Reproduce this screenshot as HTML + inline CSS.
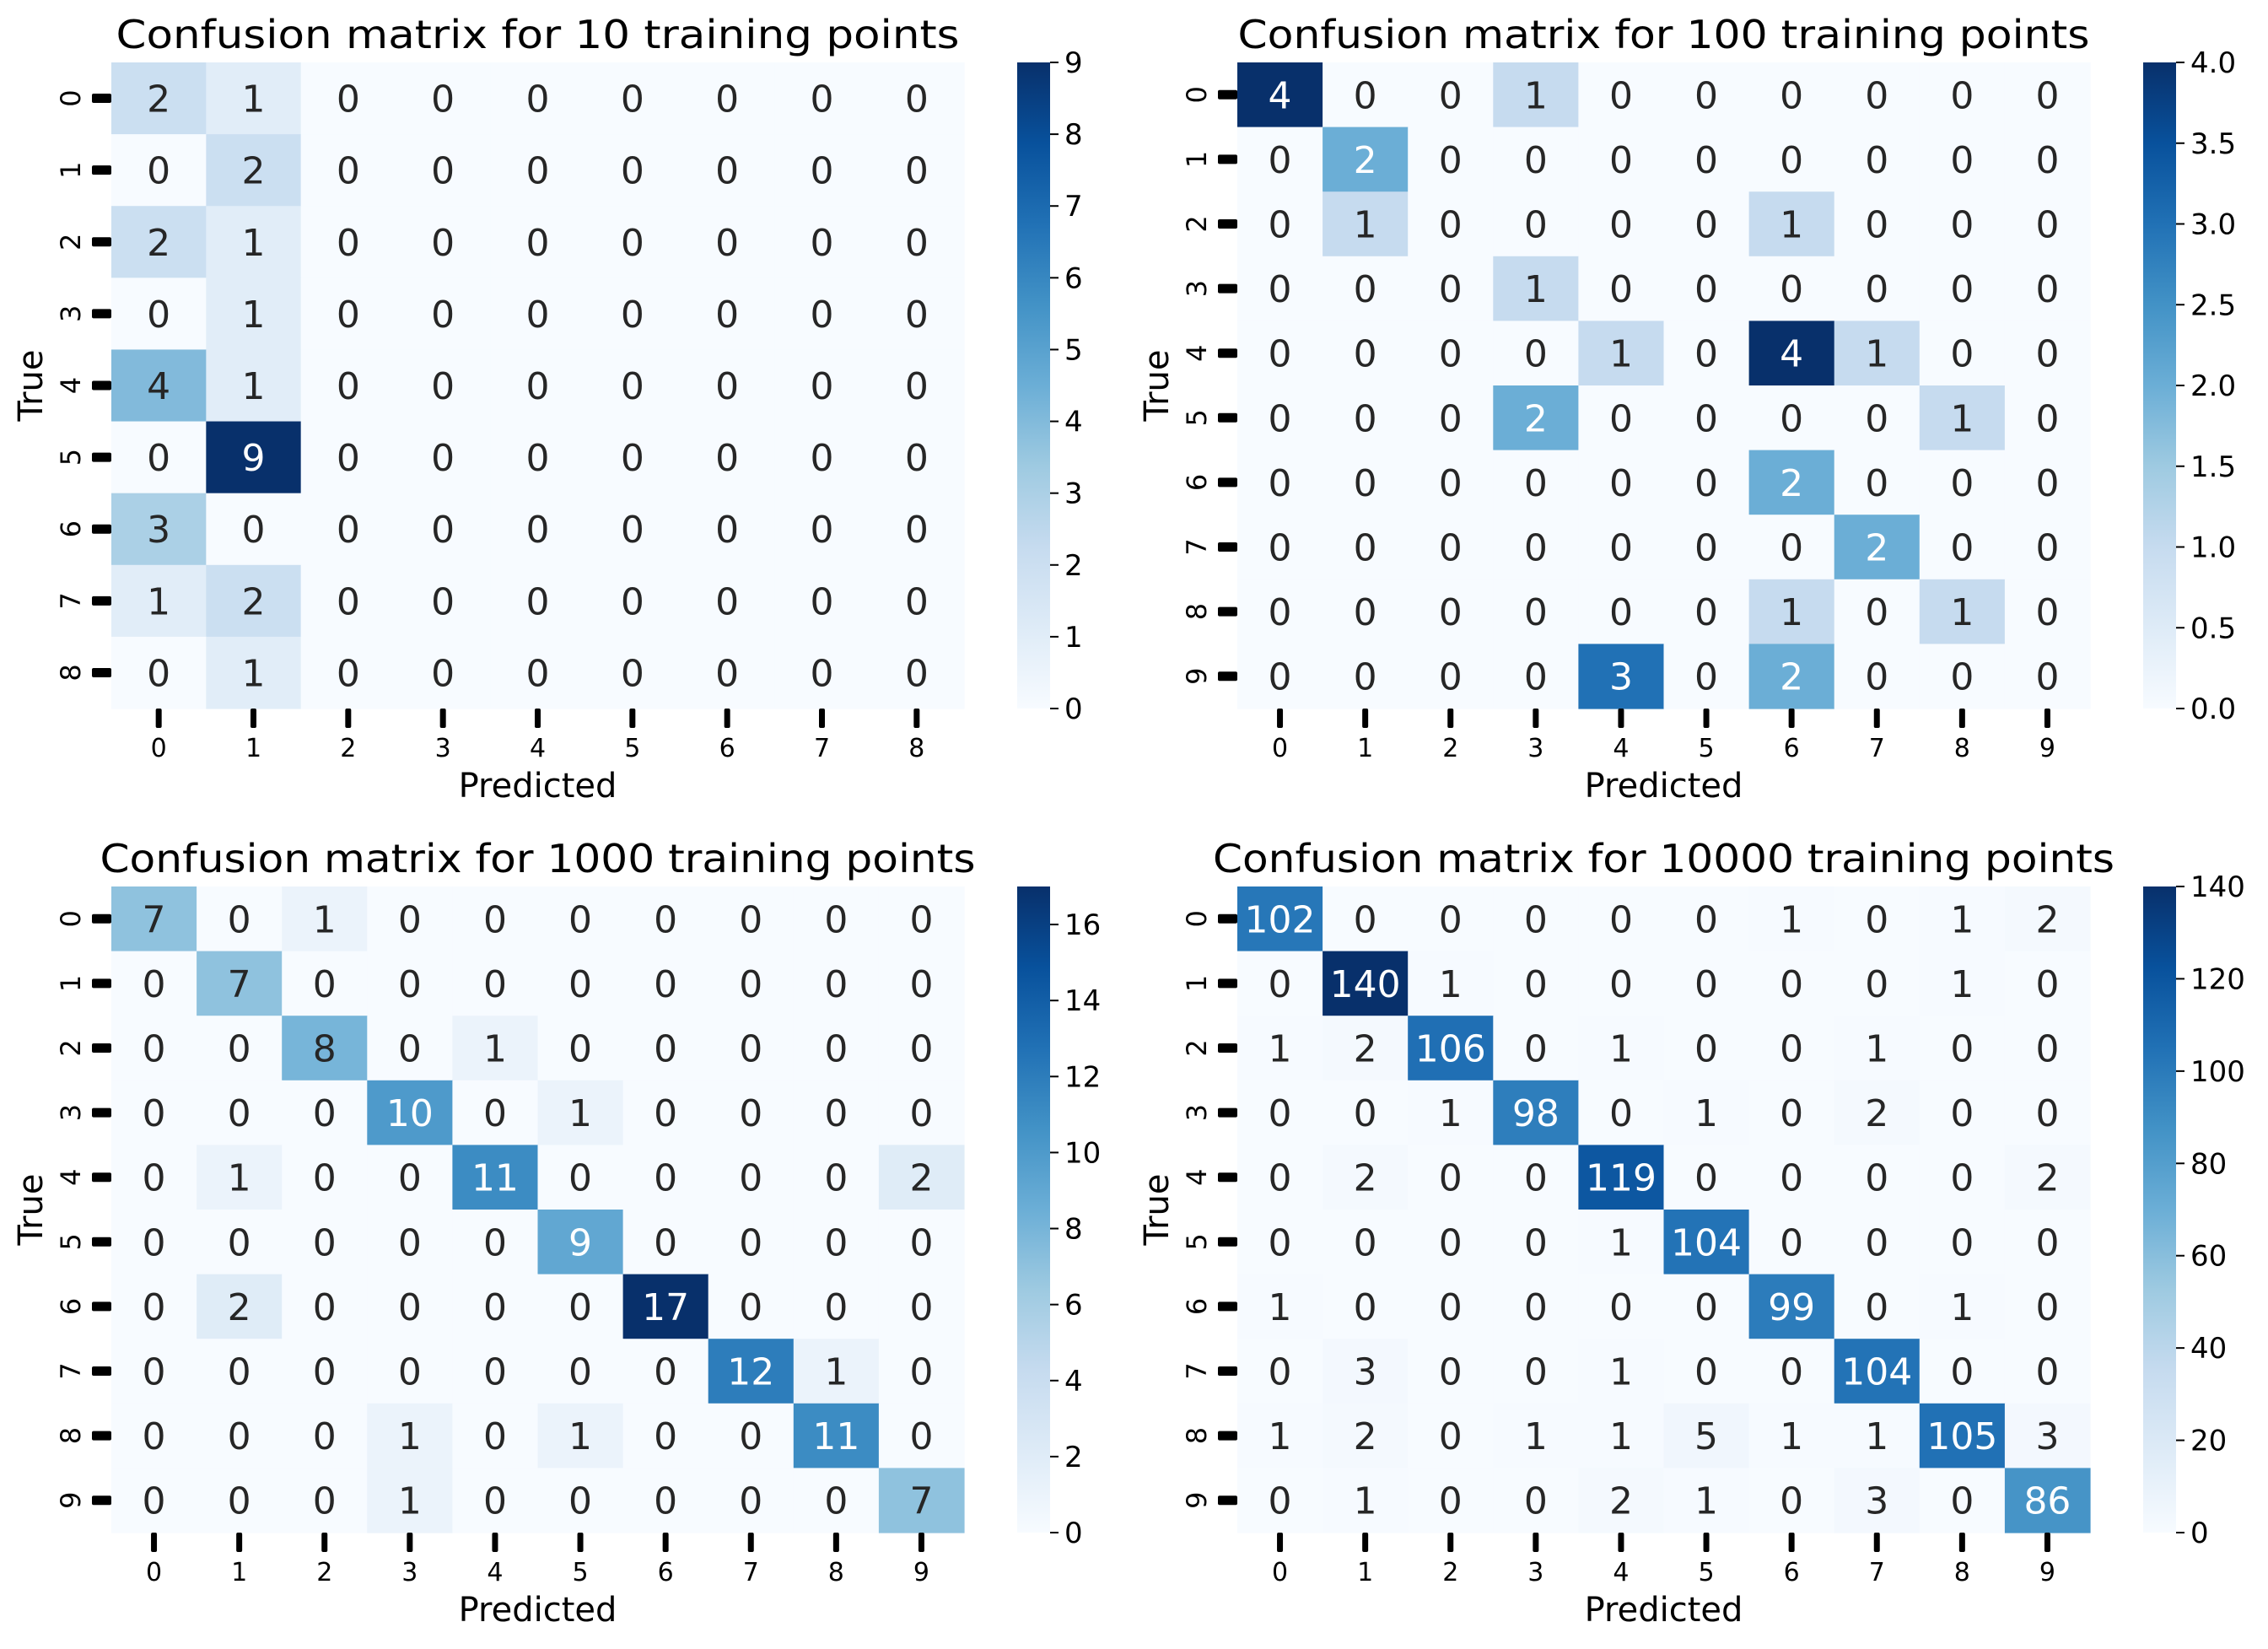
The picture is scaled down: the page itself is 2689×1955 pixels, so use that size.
<!DOCTYPE html>
<html><head><meta charset="utf-8"><style>
html,body{margin:0;padding:0;background:#fff;}
svg text{font-family:"DejaVu Sans","Liberation Sans",sans-serif;}
</style></head><body>
<svg id="fig" xmlns="http://www.w3.org/2000/svg" width="2689" height="1950" viewBox="0 0 2689 1950">
<defs>
<linearGradient id="blues" x1="0" y1="1" x2="0" y2="0">
<stop offset="0" stop-color="#f7fbff"/><stop offset="0.125" stop-color="#deebf7"/><stop offset="0.25" stop-color="#c6dbef"/><stop offset="0.375" stop-color="#9ecae1"/><stop offset="0.5" stop-color="#6baed6"/><stop offset="0.625" stop-color="#4292c6"/><stop offset="0.75" stop-color="#2171b5"/><stop offset="0.875" stop-color="#08519c"/><stop offset="1" stop-color="#08306b"/>
</linearGradient>
</defs>
</svg>
<script>
const labels9 = ["0","1","2","3","4","5","6","7","8"];
const labels10 = ["0","1","2","3","4","5","6","7","8","9"];
const m10 = [
[2,1,0,0,0,0,0,0,0],
[0,2,0,0,0,0,0,0,0],
[2,1,0,0,0,0,0,0,0],
[0,1,0,0,0,0,0,0,0],
[4,1,0,0,0,0,0,0,0],
[0,9,0,0,0,0,0,0,0],
[3,0,0,0,0,0,0,0,0],
[1,2,0,0,0,0,0,0,0],
[0,1,0,0,0,0,0,0,0]];
const m100 = [
[4,0,0,1,0,0,0,0,0,0],
[0,2,0,0,0,0,0,0,0,0],
[0,1,0,0,0,0,1,0,0,0],
[0,0,0,1,0,0,0,0,0,0],
[0,0,0,0,1,0,4,1,0,0],
[0,0,0,2,0,0,0,0,1,0],
[0,0,0,0,0,0,2,0,0,0],
[0,0,0,0,0,0,0,2,0,0],
[0,0,0,0,0,0,1,0,1,0],
[0,0,0,0,3,0,2,0,0,0]];
const m1000 = [
[7,0,1,0,0,0,0,0,0,0],
[0,7,0,0,0,0,0,0,0,0],
[0,0,8,0,1,0,0,0,0,0],
[0,0,0,10,0,1,0,0,0,0],
[0,1,0,0,11,0,0,0,0,2],
[0,0,0,0,0,9,0,0,0,0],
[0,2,0,0,0,0,17,0,0,0],
[0,0,0,0,0,0,0,12,1,0],
[0,0,0,1,0,1,0,0,11,0],
[0,0,0,1,0,0,0,0,0,7]];
const m10000 = [
[102,0,0,0,0,0,1,0,1,2],
[0,140,1,0,0,0,0,0,1,0],
[1,2,106,0,1,0,0,1,0,0],
[0,0,1,98,0,1,0,2,0,0],
[0,2,0,0,119,0,0,0,0,2],
[0,0,0,0,1,104,0,0,0,0],
[1,0,0,0,0,0,99,0,1,0],
[0,3,0,0,1,0,0,104,0,0],
[1,2,0,1,1,5,1,1,105,3],
[0,1,0,0,2,1,0,3,0,86]];
const cbTicks10 = [0,1,2,3,4,5,6,7,8,9];
const cbTicks100 = [0,0.5,1,1.5,2,2.5,3,3.5,4];
const cbTicks1000 = [0,2,4,6,8,10,12,14,16];
const cbTicks10000 = [0,20,40,60,80,100,120,140];
const titles = ["Confusion matrix for 10 training points","Confusion matrix for 100 training points","Confusion matrix for 1000 training points","Confusion matrix for 10000 training points"];

const NS="http://www.w3.org/2000/svg";
const svg=document.getElementById('fig');
const stops=[[247,251,255],[222,235,247],[198,219,239],[158,202,225],[107,174,214],[66,146,198],[33,113,181],[8,81,156],[8,48,107]];
function blues(t){t=Math.max(0,Math.min(1,t));const p=t*8;const i=Math.min(7,Math.floor(p));const f=p-i;
 return stops[i].map((c,k)=>Math.round(c+(stops[i+1][k]-c)*f));}
function lum(rgb){const c=rgb.map(v=>{v/=255;return v<=0.03928?v/12.92:Math.pow((v+0.055)/1.055,2.4);});return 0.2126*c[0]+0.7152*c[1]+0.0722*c[2];}
function mk(tag,attrs,parent){const e=document.createElementNS(NS,tag);for(const k in attrs)e.setAttribute(k,attrs[k]);(parent||svg).appendChild(e);return e;}

function panel(id,mat,labels,vmax,cbTicks,cbDec,title,tlen,ox,oy){
 const g=mk('g',{});
 
 
 const L=132+ox,T=74+oy,R=1143+ox,B=840+oy;
 const n=labels.length;const cw=(R-L)/n,ch=(B-T)/n;
 const xs=j=>L+j*cw, ys=i=>T+i*ch, cs=v=>B-(v/vmax)*(B-T);
 const t=mk('text',{x:(L+R)/2,y:57+oy,'font-size':46,'text-anchor':'middle',fill:'#000',textLength:tlen,lengthAdjust:'spacingAndGlyphs'},g);t.textContent=title;
 
 
 for(let i=0;i<n;i++)for(let j=0;j<n;j++){
  const v=mat[i][j];const c=blues(v/vmax);
  const r=mk('rect',{x:xs(j),y:ys(i),width:cw+0.6,height:ch+0.6,fill:`rgb(${c})`},g);
  
  
  const tx=mk('text',{x:xs(j)+cw/2,y:ys(i)+ch/2+16,'font-size':44,'text-anchor':'middle',fill:lum(c)>0.408?'#262626':'#ffffff'},g);tx.textContent=v;
  
  
 }
 labels.forEach((lb,i)=>{
  const cy=ys(i)+ch/2;
  const tk=mk('rect',{x:L-23,y:cy-5.5,width:23,height:11,rx:2,fill:'#000'},g);
  
  
  const tl=mk('text',{x:0,y:0,'font-size':32,'text-anchor':'middle',fill:'#000',transform:`translate(${L-37},${cy}) rotate(-90)`},g);tl.textContent=lb;
  
  
  const cx=xs(i)+cw/2;
  const xt=mk('rect',{x:cx-3.5,y:B,width:7,height:23,rx:2,fill:'#000'},g);
  
  
  const xl=mk('text',{x:cx,y:B+57,'font-size':30,'text-anchor':'middle',fill:'#000'},g);xl.textContent=lb;
  
  
 });
 const xa=mk('text',{x:(L+R)/2,y:945+oy,'font-size':40,'text-anchor':'middle',fill:'#000'},g);xa.textContent='Predicted';
 
 
 const ya=mk('text',{x:0,y:0,'font-size':40,'text-anchor':'middle',fill:'#000',transform:`translate(${50+ox},${(T+B)/2}) rotate(-90)`},g);ya.textContent='True';
 
 
 const cbL=1206+ox,cbR=1245+ox;
 const cb=mk('rect',{x:cbL,y:T,width:cbR-cbL,height:B-T,fill:'url(#blues)'},g);
 
 
 cbTicks.forEach(v=>{
  const y=cs(v);
  const l=mk('line',{x1:cbR,x2:cbR+10,y1:y,y2:y,stroke:'#000','stroke-width':2},g);
  
  
  const tl=mk('text',{x:cbR+17,y:y+12,'font-size':34,fill:'#000'},g);tl.textContent=v.toFixed(cbDec);
  
  
 });
}
panel('heatmap-10',m10,labels9,9,cbTicks10,0,titles[0],1000,0,0);
panel('heatmap-100',m100,labels10,4,cbTicks100,1,titles[1],1010,1335,0);
panel('heatmap-1000',m1000,labels10,17,cbTicks1000,0,titles[2],1038,0,977);
panel('heatmap-10000',m10000,labels10,140,cbTicks10000,0,titles[3],1069,1335,977);
</script>
</body></html>
